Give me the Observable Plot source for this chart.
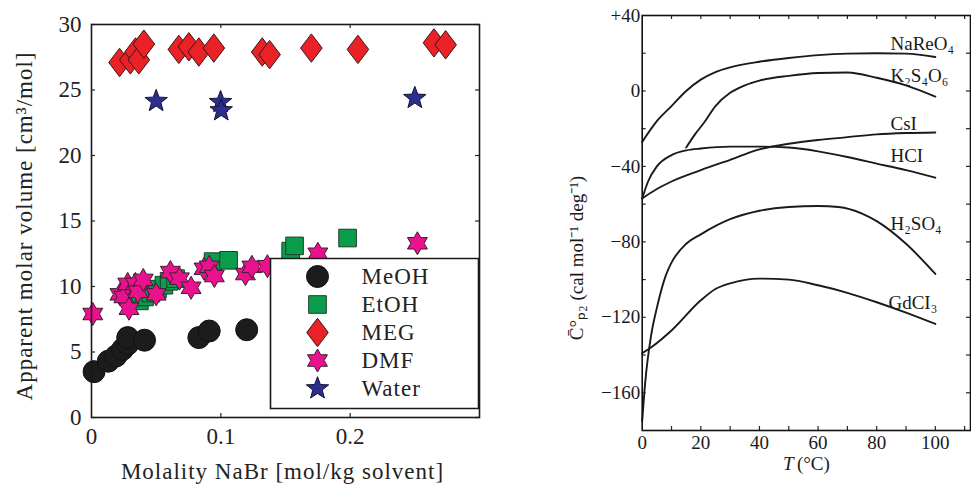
<!DOCTYPE html>
<html><head><meta charset="utf-8">
<script src="https://cdn.jsdelivr.net/npm/d3@7"></script>
<script src="https://cdn.jsdelivr.net/npm/@observablehq/plot@0.6"></script>
<style>
body{margin:0;background:#fff;}
#wrap{display:flex;width:971px;height:484px;overflow:hidden;background:#fff;}
svg text{font-family:"Liberation Serif","Times New Roman",serif !important;}
.lp g[aria-label="text"] text{letter-spacing:1px;}
</style></head><body><div id="wrap"></div>
<script>
// ---------- Left panel data ----------
const seriesNames = ["MeOH", "EtOH", "MEG", "DMF", "Water"];
const meohX = [0.002, 0.013, 0.019, 0.024, 0.028, 0.028, 0.041, 0.083, 0.091, 0.120];
const meohY = [3.5, 4.3, 4.7, 5.2, 5.6, 6.1, 5.9, 6.1, 6.6, 6.7];
const etohX = [0.037, 0.041, 0.046, 0.051, 0.056, 0.060, 0.065, 0.094, 0.106, 0.154, 0.157, 0.198];
const etohY = [8.9, 9.2, 9.5, 9.8, 10.1, 10.4, 10.6, 11.9, 12.0, 12.7, 13.1, 13.7];
const megX = [0.0217, 0.030, 0.034, 0.0366, 0.0405, 0.0675, 0.0753, 0.083, 0.0946, 0.132, 0.1377, 0.170, 0.206, 0.2648, 0.2738];
const megY = [27.1, 27.3, 27.9, 27.3, 28.5, 28.1, 28.3, 27.9, 28.2, 27.9, 27.7, 28.2, 28.1, 28.6, 28.45];
const dmfX = [0.001, 0.022, 0.025, 0.028, 0.029, 0.034, 0.036, 0.040, 0.050, 0.061, 0.068, 0.077, 0.087, 0.091, 0.095, 0.119, 0.124, 0.136, 0.175, 0.252];
const dmfY = [7.9, 9.4, 9.2, 10.2, 8.3, 10.2, 9.6, 10.5, 9.4, 11.1, 10.6, 9.9, 11.35, 11.5, 10.8, 10.95, 11.5, 11.55, 12.5, 13.3];
const waterX = [0.050, 0.0998, 0.1003, 0.250];
const waterY = [24.15, 24.07, 23.44, 24.38];
const leftXTicks = [0, 0.1, 0.2];
const leftXInnerTicks = [0.1, 0.2];
const leftYTicks = [0, 5, 10, 15, 20, 25, 30];
const leftXLabel = "Molality NaBr [mol/kg solvent]";
const leftYLabel = "Apparent molar volume [cm³/mol]";

// ---------- Right panel data ----------
const curveNames = ["NaReO₄", "K₂S₄O₆", "CsI", "HCI", "H₂SO₄", "GdCI₃"];
const nareo4T = [0, 5, 10, 15, 20, 25, 30, 40, 50, 60, 70, 80, 90, 100];
const nareo4V = [-27, -16, -8, 0, 6, 10, 12.5, 15.5, 17.5, 19, 19.8, 20, 19.8, 18];
const k2s4o6T = [15, 18, 21, 25, 30, 35, 40, 50, 60, 70, 80, 90, 100];
const k2s4o6V = [-30, -23, -17, -8, -1, 3, 5.5, 8, 9.5, 9.8, 7, 3, -3];
const csiT = [0, 5, 10, 20, 30, 40, 50, 60, 70, 80, 90, 100];
const csiV = [-57, -52, -48, -42, -36.5, -31, -28, -26, -24.5, -23, -22.3, -22];
const hclT = [0, 2, 5, 10, 15, 20, 30, 40, 50, 60, 70, 80, 90, 100];
const hclV = [-57, -48, -40, -34, -31.5, -30.5, -29.5, -29.5, -30, -32, -35, -38.5, -42, -46];
const h2so4T = [0, 1, 3, 5, 8, 10, 15, 20, 30, 40, 50, 60, 67, 75, 80, 90, 100];
const h2so4V = [-175, -155, -130, -115, -98, -91, -81, -76, -68, -63.5, -61.5, -61, -61.5, -65, -69, -81, -97];
const gdcl3T = [0, 3, 10, 20, 25, 30, 40, 50, 60, 70, 80, 90, 100];
const gdcl3V = [-139, -136, -127, -111, -105, -102, -99.5, -100, -103, -107, -112, -117.5, -123.5];
const labelT = [84.7, 84.7, 84.7, 84.7, 84.7, 84.0];
const labelV = [25.2, 8.2, -17.3, -34.2, -70.3, -112.2];
const rightXTicks = [0, 20, 40, 60, 80, 100];
const rightXMinor = [10, 20, 30, 40, 50, 60, 70, 80, 90, 100, 110];
const rightYTicks = [40, 0, -40, -80, -120, -160];
const rightYMinor = [-160, -140, -120, -100, -80, -60, -40, -20, 0, 20];
const rightYLabel = "C̄°ₚ₂ (cal mol⁻¹ deg⁻¹)";

// ---------- symbols ----------
function mk(fn) { return { draw(c, size) { const k = Math.sqrt(size / Math.PI) / 10; fn(c, k); } }; }
const circleSym = mk((c, k) => { const r = 11 * k; c.moveTo(r, 0); c.arc(0, 0, r, 0, 2 * Math.PI); });
const squareSym = mk((c, k) => { const h = 8.8 * k; c.moveTo(-h, -h); c.lineTo(h, -h); c.lineTo(h, h); c.lineTo(-h, h); c.closePath(); });
const diamondSym = mk((c, k) => { const w = 10.8 * k, h = 14.2 * k; c.moveTo(0, -h); c.lineTo(w, 0); c.lineTo(0, h); c.lineTo(-w, 0); c.closePath(); });
const hexSym = mk((c, k) => {
  const R = 11.5 * k, r = R / Math.sqrt(3);
  for (let i = 0; i < 12; i++) { const a = -Math.PI / 2 + i * Math.PI / 6, rr = i % 2 ? r : R;
    const x = rr * Math.cos(a), y = rr * Math.sin(a); if (i) c.lineTo(x, y); else c.moveTo(x, y); }
  c.closePath();
});
const starSym = mk((c, k) => {
  const R = 11.8 * k, r = R * 0.42;
  for (let i = 0; i < 10; i++) { const a = -Math.PI / 2 + i * Math.PI / 5, rr = i % 2 ? r : R;
    const x = rr * Math.cos(a), y = rr * Math.sin(a); if (i) c.lineTo(x, y); else c.moveTo(x, y); }
  c.closePath();
});
const boxSym = mk((c, k) => { const w = 104 * k, h = 75 * k; c.moveTo(-w, -h); c.lineTo(w, -h); c.lineTo(w, h); c.lineTo(-w, h); c.closePath(); });

const seriesX = [meohX, etohX, megX, dmfX, waterX];
const seriesY = [meohY, etohY, megY, dmfY, waterY];
const seriesSym = [circleSym, squareSym, diamondSym, hexSym, starSym];
const seriesFill = ["#1c1c1c", "#0a9e4c", "#ea2227", "#ea128c", "#2c2f8e"];
const seriesStroke = ["#111111", "#203a28", "#3a1616", "#3c1e32", "#151535"];
const FF = '"Liberation Serif", "Times New Roman", serif';

const LW = 500, LH = 484, LML = 91, LMR = 21, LMT = 24, LMB = 67;
const lpw = LW - LML - LMR, lph = LH - LMT - LMB;

const leftMarks = [];
seriesNames.forEach((name, i) => {
  const tbl = seriesX[i].map((x, j) => ({ x, y: seriesY[i][j] }));
  leftMarks.push(Plot.dot(tbl, { x: "x", y: "y", r: 10, symbol: seriesSym[i], fill: seriesFill[i], stroke: seriesStroke[i], strokeWidth: 1 }));
});
leftMarks.push(
  Plot.tickY(leftYTicks, { y: d => d, insetRight: lpw - 4, stroke: "#222", strokeWidth: 1.2 }),
  Plot.tickY(leftYTicks, { y: d => d, insetLeft: lpw - 4, stroke: "#222", strokeWidth: 1.2 }),
  Plot.tickX(leftXInnerTicks, { x: d => d, insetTop: lph - 4, stroke: "#222", strokeWidth: 1.2 }),
  Plot.tickX(leftXInnerTicks, { x: d => d, insetBottom: lph - 4, stroke: "#222", strokeWidth: 1.2 }),
  Plot.axisX(leftXTicks, { tickSize: 0, tickPadding: 10, tickFormat: d => String(d), label: null, fontSize: 23, fill: "#222" }),
  Plot.axisY(leftYTicks, { tickSize: 0, tickPadding: 10, tickFormat: d => String(d), label: null, fontSize: 23, fill: "#222" }),
  Plot.text([leftYLabel], { text: d => d, frameAnchor: "left", rotate: -90, dx: -67, dy: 5, fontSize: 23, fontFamily: FF, fill: "#222", textAnchor: "middle", lineAnchor: "middle" }),
  Plot.text([leftXLabel], { text: d => d, frameAnchor: "bottom", dx: -3, dy: 54, fontSize: 23, fontFamily: FF, fill: "#222", textAnchor: "middle", lineAnchor: "middle" }),
  Plot.dot([0], { frameAnchor: "bottom-right", dx: -105, dy: -84, symbol: boxSym, r: 10, fill: "white", stroke: "#1a1a1a", strokeWidth: 1.6 })
);
seriesNames.forEach((name, i) => {
  leftMarks.push(
    Plot.dot([name], { frameAnchor: "bottom-right", dx: -162, dy: -141 + 28 * i, r: 10, symbol: seriesSym[i], fill: seriesFill[i], stroke: seriesStroke[i], strokeWidth: 1 }),
    Plot.text([name], { text: d => d, frameAnchor: "bottom-right", dx: -118, dy: -141 + 28 * i, textAnchor: "start", lineAnchor: "middle", fontSize: 23, fontFamily: FF, fill: "#222" })
  );
});
leftMarks.push(Plot.frame({ stroke: "#1a1a1a", strokeWidth: 1.6 }));

const left = Plot.plot({
  width: LW, height: LH, marginLeft: LML, marginRight: LMR, marginTop: LMT, marginBottom: LMB,
  className: "lp",
  style: { fontFamily: FF, fontSize: "23px", background: "white", overflow: "visible" },
  x: { domain: [0, 0.3] },
  y: { domain: [0, 30] },
  marks: leftMarks
});

// ---------- Right panel ----------
const RW = 471, RH = 484, RML = 141.7, RMR = 1, RMT = 15, RMB = 54;
const rpw = RW - RML - RMR, rph = RH - RMT - RMB;
const curveT = [nareo4T, k2s4o6T, csiT, hclT, h2so4T, gdcl3T];
const curveV = [nareo4V, k2s4o6V, csiV, hclV, h2so4V, gdcl3V];
const rightMarks = [];
curveNames.forEach((name, i) => {
  const tbl = curveT[i].map((t, j) => ({ t, v: curveV[i][j] }));
  rightMarks.push(Plot.line(tbl, { x: "t", y: "v", curve: "monotone-x", stroke: "#1a1a1a", strokeWidth: 1.9 }));
});
const labelTbl = curveNames.map((n, i) => ({ n, t: labelT[i], v: labelV[i] }));
rightMarks.push(
  Plot.text(labelTbl, { x: "t", y: "v", text: "n", textAnchor: "start", lineAnchor: "middle", fontSize: 19, fontFamily: FF, fill: "#1a1a1a" }),
  Plot.tickY(rightYMinor, { y: d => d, insetRight: rpw - 4, stroke: "#222", strokeWidth: 1.2 }),
  Plot.tickY(rightYMinor, { y: d => d, insetLeft: rpw - 4, stroke: "#222", strokeWidth: 1.2 }),
  Plot.tickX(rightXMinor, { x: d => d, insetTop: rph - 4, stroke: "#222", strokeWidth: 1.2 }),
  Plot.tickX(rightXMinor, { x: d => d, insetBottom: rph - 4, stroke: "#222", strokeWidth: 1.2 }),
  Plot.axisX(rightXTicks, { tickSize: 0, tickPadding: 5, tickFormat: d => String(d), label: null, fontSize: 19, fill: "#1a1a1a" }),
  Plot.axisY(rightYTicks, { tickSize: 0, tickPadding: 2, tickFormat: d => d > 0 ? "+" + d : d < 0 ? "−" + Math.abs(d) : "0", label: null, fontSize: 19, fill: "#1a1a1a" }),
  Plot.text([rightYLabel], { text: d => d, frameAnchor: "left", rotate: -90, dx: -65, dy: 35, fontSize: 19, fontFamily: FF, fill: "#1a1a1a", textAnchor: "middle", lineAnchor: "middle" }),
  Plot.text(["T"], { text: d => d, frameAnchor: "bottom", dx: -18, dy: 33, fontSize: 19, fontFamily: FF, fontStyle: "italic", fill: "#1a1a1a", textAnchor: "middle", lineAnchor: "middle" }),
  Plot.text(["(°C)"], { text: d => d, frameAnchor: "bottom", dx: 7, dy: 33, fontSize: 19, fontFamily: FF, fill: "#1a1a1a", textAnchor: "middle", lineAnchor: "middle" }),
  Plot.frame({ stroke: "#111", strokeWidth: 1.6 })
);
const right = Plot.plot({
  width: RW, height: RH, marginLeft: RML, marginRight: RMR, marginTop: RMT, marginBottom: RMB,
  style: { fontFamily: FF, fontSize: "19px", background: "white", overflow: "visible" },
  x: { domain: [0, 112] },
  y: { domain: [-180, 40] },
  marks: rightMarks
});

const wrap = document.getElementById("wrap");
wrap.appendChild(left);
wrap.appendChild(right);
</script></body></html>
